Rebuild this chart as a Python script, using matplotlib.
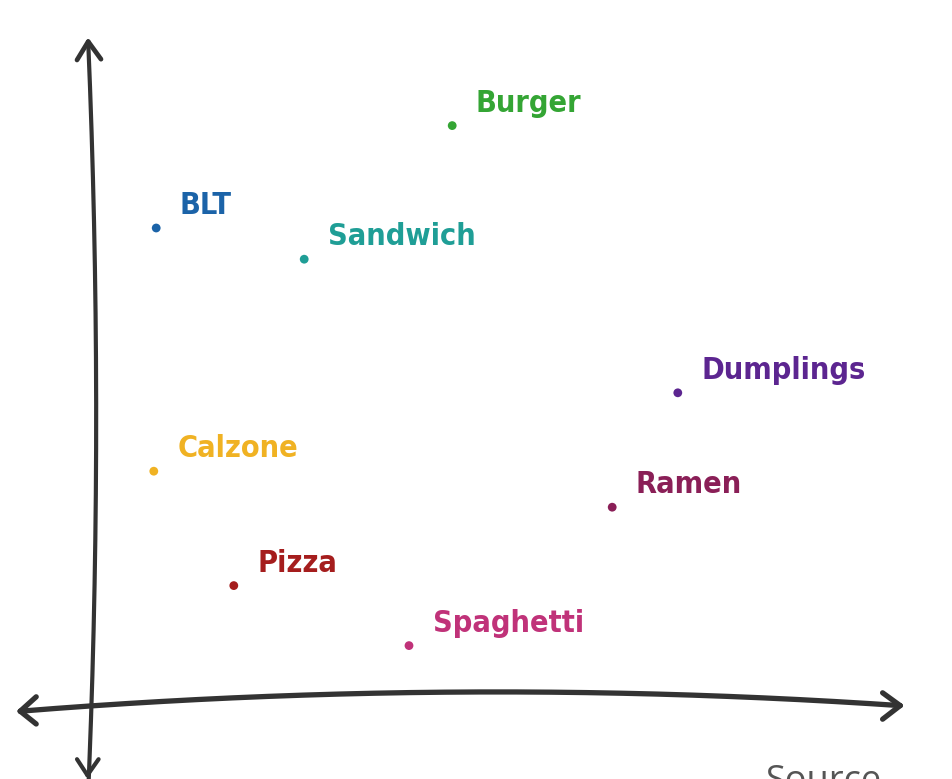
import numpy as np
import matplotlib.pyplot as plt

# Food items placed on a 2D map (arbitrary units, origin at the axes crossing)
foods = ['Burger', 'BLT', 'Sandwich', 'Dumplings', 'Calzone', 'Ramen', 'Pizza', 'Spaghetti']
x_vals = [4.49, 0.79, 2.64, 7.31, 0.76, 6.49, 1.76, 3.95]
y_vals = [7.28, 6.00, 5.61, 3.94, 2.96, 2.51, 1.53, 0.78]
colors = ['#34a534', '#1b63a8', '#1f9e96', '#5c2590', '#f0b223', '#8a1f57', '#a51d1d', '#c03279']

AXIS_COLOR = '#333333'

fig = plt.figure(figsize=(9.53, 7.79), dpi=100)
ax = fig.add_axes([0, 0, 1, 1])
ax.set_xlim(-93 / 80, (953 - 93) / 80)
ax.set_ylim((708 - 779) / 80, 708 / 80)
ax.axis('off')

# hand-drawn looking horizontal axis (slight arch)
hx = [-0.91, 4.71, 10.09]
hy = [-0.04, 0.20, 0.03]
hc = np.polyfit(hx, hy, 2)
xs = np.linspace(hx[0], hx[-1], 200)
ax.plot(xs, np.polyval(hc, xs), color=AXIS_COLOR, lw=3.8, solid_capstyle='round')

# vertical axis (slight bow)
vy = [8.33, 5.10, -1.05]
vx = [-0.06, 0.03, -0.06]
vc = np.polyfit(vy, vx, 2)
ys = np.linspace(vy[0], vy[-1], 200)
ax.plot(np.polyval(vc, ys), ys, color=AXIS_COLOR, lw=3.0, solid_capstyle='round')

# arrowheads
def arrowhead(tip, w1, w2, lw):
    for w in (w1, w2):
        ax.plot([w[0], tip[0]], [w[1], tip[1]], color=AXIS_COLOR, lw=lw,
                solid_capstyle='round')

arrowhead((-0.06, 8.33), (-0.20, 8.10), (0.10, 8.11), 3.4)
arrowhead((-0.91, -0.04), (-0.71, 0.14), (-0.71, -0.20), 3.8)
arrowhead((10.09, 0.03), (9.87, 0.19), (9.87, -0.14), 3.8)
arrowhead((-0.07, -0.84), (-0.20, -0.64), (0.07, -0.64), 3.0)

# points and labels
for name, x, y, c in zip(foods, x_vals, y_vals, colors):
    ax.scatter([x], [y], s=40, color=c, zorder=3, edgecolors='none')
    ax.annotate(name, (x, y), xytext=(17, 16), textcoords='offset points',
                ha='left', va='center', color=c, fontsize=22, fontweight='bold',
                fontstretch='condensed', family='DejaVu Sans')

fig.text(765 / 953, -12 / 779, 'Source', color='#555555', fontsize=26,
         ha='left', va='baseline', family='Open Sans')

fig.savefig('out.png', dpi=100)
